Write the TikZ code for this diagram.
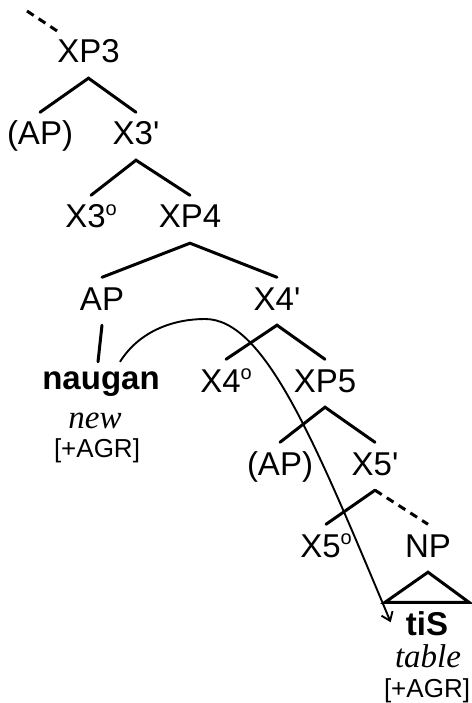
\documentclass[tikz,border=0pt]{standalone}
\usepackage{fontspec}
\setmainfont{Liberation Serif}
\setsansfont{Liberation Sans}
\usetikzlibrary{arrows.meta}
\newcommand{\headmark}{\raisebox{13pt}{\fontsize{20}{20}\selectfont o}}
\tikzset{
  lab/.style={font=\sffamily\fontsize{33}{36}\selectfont, inner sep=0pt, text height=32.5pt, text depth=15pt, anchor=base},
  blab/.style={lab, font=\sffamily\bfseries\fontsize{33}{36}\selectfont},
  wlab/.style={blab, text height=27pt},
  gloss/.style={font=\rmfamily\itshape\fontsize{33}{36}\selectfont, inner sep=0pt, anchor=base},
  agr/.style={font=\sffamily\fontsize{26}{28}\selectfont, inner sep=0pt, anchor=base},
  branch/.style={line width=3pt, line cap=round},
  dashbranch/.style={line width=3pt, dash pattern=on 8pt off 6pt},
  movearrow/.style={line width=1.9pt, -{Straight Barb[length=8pt,width=12pt,line width=1.9pt]}},
}
\begin{document}
\begin{tikzpicture}[x=1pt,y=-1pt]
\useasboundingbox (0,0) rectangle (471,703);
% labels
\node[lab] (XP3) at (88.5,63) {XP3};
\node[lab] (AP1) at (40,145) {(AP)};
\node[lab] (X3b) at (136,145) {X3\textquotesingle};
\node[lab] (X3o) at (91,228) {X3\headmark};
\node[lab] (XP4) at (190,228) {XP4};
\node[lab] (AP2) at (102,310) {AP};
\node[lab] (X4b) at (277,310) {X4\textquotesingle};
\node[wlab] (naugan) at (101,389) {naugan};
\node[gloss] (new) at (95,428) {new};
\node[agr] (agr1) at (97,457) {[+AGR]};
\node[lab] (X4o) at (226,392) {X4\headmark};
\node[lab] (XP5) at (325,392) {XP5};
\node[lab] (AP3) at (280,475) {(AP)};
\node[lab] (X5b) at (375,475) {X5\textquotesingle};
\node[lab] (X5o) at (326,557) {X5\headmark};
\node[lab] (NP) at (428,557) {NP};
\node[blab] (tiS) at (427,635) {tiS};
\node[gloss] (table) at (428,667) {table};
\node[agr] (agr2) at (427,697) {[+AGR]};
\coordinate (top) at (27,11);
% branches
\draw[dashbranch] (top) -- ([xshift=2pt,yshift=-2pt]XP3.north west);
\draw[branch] (AP1.north) -- (XP3.south) -- (X3b.north);
\draw[branch] (X3o.north) -- (X3b.south) -- (XP4.north);
\draw[branch] (AP2.north) -- (XP4.south) -- (X4b.north);
\draw[branch] (AP2.south) -- ([xshift=-3pt]naugan.north);
\draw[branch] (X4o.north) -- (X4b.south) -- (XP5.north);
\draw[branch] (AP3.north) -- (XP5.south) -- (X5b.north);
\draw[branch] (X5o.north) -- (X5b.south);
\draw[dashbranch] (X5b.south) -- (NP.north);
\draw[line width=3pt, line join=miter] (NP.south) -- ([xshift=-42pt]tiS.north) -- ([xshift=42pt]tiS.north) -- cycle;
% movement arrow
\draw[movearrow] ([xshift=19pt]naugan.north) .. controls (140,330) and (175,319) .. (205,319)
  .. controls (265,319) and (315,442) .. ([xshift=-15pt,yshift=4pt]tiS.west);
\end{tikzpicture}
\end{document}
